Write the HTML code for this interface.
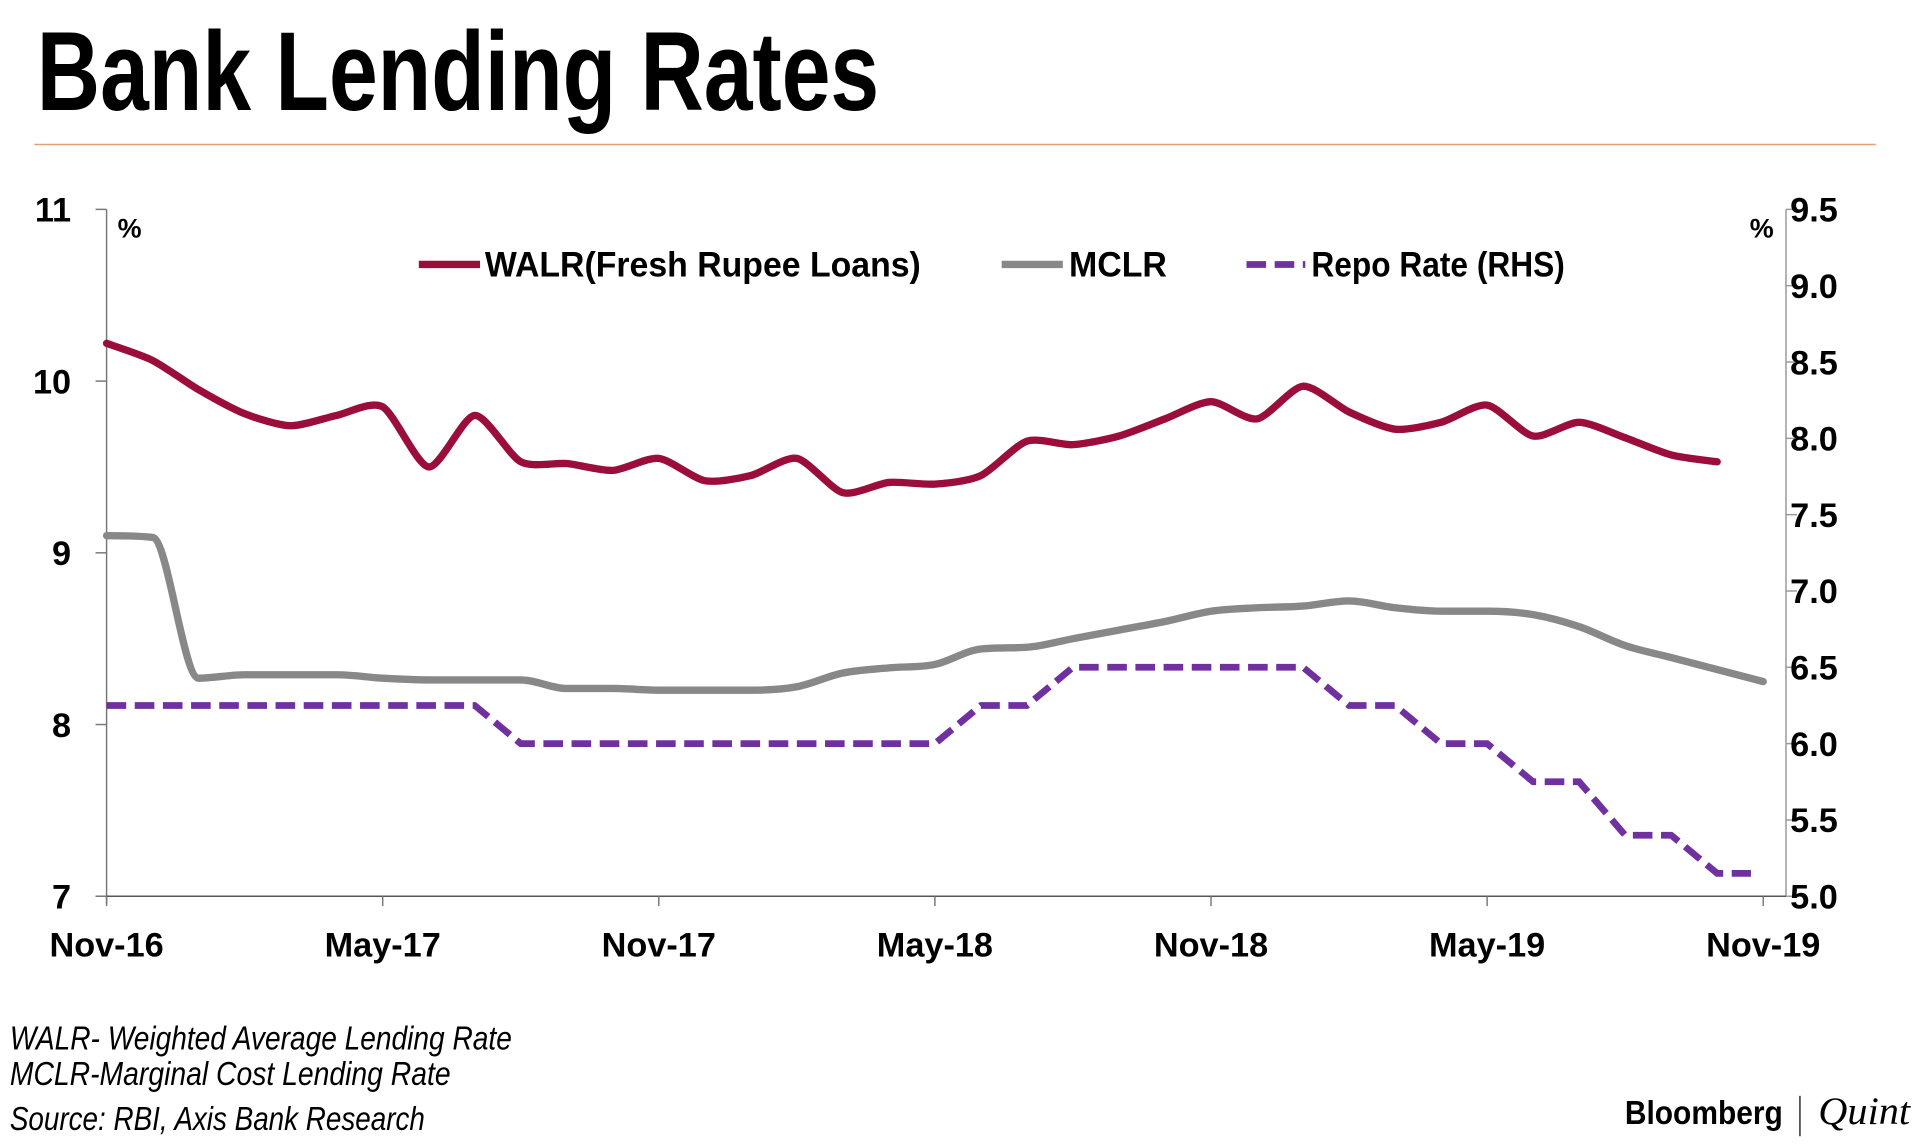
<!DOCTYPE html>
<html><head><meta charset="utf-8"><style>
html,body{margin:0;padding:0;background:#fff;width:1920px;height:1148px;overflow:hidden}
svg{display:block}
text{font-family:"Liberation Sans",sans-serif;font-weight:bold;fill:#000}
.n{font-family:"Liberation Sans Narrow","Liberation Sans",sans-serif}
.it{font-weight:normal;font-style:italic}
</style></head><body>
<svg id="chart" width="1920" height="1148" viewBox="0 0 1568 937.6" xmlns="http://www.w3.org/2000/svg">
<text class="n" x="30" y="90" font-size="92" textLength="688" lengthAdjust="spacingAndGlyphs">Bank Lending Rates</text>
<line x1="28" y1="118" x2="1532" y2="118" stroke="#e8a070" stroke-width="1.2"/>
<g id="axes"></g>
<g id="series"></g>
<g>
<line x1="342" y1="216" x2="392" y2="216" stroke="#9b0d3a" stroke-width="6"/>
<text class="n" x="396" y="226" font-size="29" textLength="356" lengthAdjust="spacingAndGlyphs">WALR(Fresh Rupee Loans)</text>
<line x1="818" y1="216" x2="868" y2="216" stroke="#888" stroke-width="6"/>
<text class="n" x="873" y="226" font-size="29" textLength="80" lengthAdjust="spacingAndGlyphs">MCLR</text>
<line x1="1018" y1="216" x2="1066" y2="216" stroke="#7030a0" stroke-width="5.5" stroke-dasharray="16,7"/>
<text class="n" x="1071" y="226" font-size="29" textLength="207" lengthAdjust="spacingAndGlyphs">Repo Rate (RHS)</text>
</g>
<text x="96" y="194" font-size="22">%</text>
<text x="1429" y="194" font-size="22">%</text>
<g>
<text class="n it" x="8" y="857" font-size="27" textLength="410" lengthAdjust="spacingAndGlyphs">WALR- Weighted Average Lending Rate</text>
<text class="n it" x="8" y="886" font-size="27" textLength="360" lengthAdjust="spacingAndGlyphs">MCLR-Marginal Cost Lending Rate</text>
<text class="n it" x="8" y="923" font-size="27" textLength="339" lengthAdjust="spacingAndGlyphs">Source: RBI, Axis Bank Research</text>
</g>
<g>
<text class="n" x="1327" y="918" font-size="27" textLength="129" lengthAdjust="spacingAndGlyphs">Bloomberg</text>
<line x1="1470" y1="895" x2="1470" y2="928" stroke="#000" stroke-width="1"/>
<text x="1485" y="918" font-size="32" style="font-family:'Liberation Serif',serif;font-style:italic;font-weight:normal" textLength="75" lengthAdjust="spacingAndGlyphs">Quint</text>
</g>
</svg>
<script>
const xLabels=["Nov-16","May-17","Nov-17","May-18","Nov-18","May-19","Nov-19"];
const leftTicks=[7,8,9,10,11];
const rightTicks=[5.0,5.5,6.0,6.5,7.0,7.5,8.0,8.5,9.0,9.5];
const walr=[10.22,10.12,9.95,9.81,9.74,9.8,9.85,9.5,9.8,9.53,9.52,9.48,9.55,9.42,9.45,9.55,9.35,9.41,9.4,9.45,9.65,9.63,9.68,9.78,9.88,9.78,9.97,9.82,9.72,9.76,9.86,9.68,9.76,9.67,9.57,9.53];
const mclr=[9.1,9.09,8.27,8.29,8.29,8.29,8.27,8.26,8.26,8.26,8.21,8.21,8.2,8.2,8.2,8.22,8.3,8.33,8.35,8.44,8.45,8.5,8.55,8.6,8.66,8.68,8.69,8.72,8.68,8.66,8.66,8.64,8.57,8.46,8.39,8.32,8.25];
const repo=[6.25,6.25,6.25,6.25,6.25,6.25,6.25,6.25,6.25,6.0,6.0,6.0,6.0,6.0,6.0,6.0,6.0,6.0,6.0,6.25,6.25,6.5,6.5,6.5,6.5,6.5,6.5,6.25,6.25,6.0,6.0,5.75,5.75,5.4,5.4,5.15,5.15];
const NS="http://www.w3.org/2000/svg";
const X0=87,X1=1440,YT=171,YB=732,AXR=1458.6;
const xs=i=>X0+(X1-X0)*i/36;
const yl=v=>YB-(v-7)/(11-7)*(YB-YT);
const yr=v=>YB-(v-5)/(9.5-5)*(YB-YT);
function mk(tag,attrs,parent){const e=document.createElementNS(NS,tag);for(const k in attrs)e.setAttribute(k,attrs[k]);parent.appendChild(e);return e;}
const axes=document.getElementById('axes'),ser=document.getElementById('series');
let a;
a=mk('line',{x1:X0,y1:YT,x2:X0,y2:YB+6,stroke:'#777','stroke-width':1.2},axes);

a=mk('line',{x1:AXR,y1:YT,x2:AXR,y2:YB,stroke:'#999','stroke-width':1.2},axes);

a=mk('line',{x1:X0-9,y1:YB,x2:AXR,y2:YB,stroke:'#555','stroke-width':1.2},axes);

leftTicks.forEach(v=>{
 mk('line',{x1:X0-9,y1:yl(v),x2:X0,y2:yl(v),stroke:'#777','stroke-width':1.2},axes);
 const t=mk('text',{x:58,y:yl(v)+10,'text-anchor':'end','font-size':28},axes);t.textContent=v;
 
});
rightTicks.forEach(v=>{
 mk('line',{x1:AXR,y1:yr(v),x2:AXR+9,y2:yr(v),stroke:'#999','stroke-width':1.2},axes);
 const t=mk('text',{x:1462,y:yr(v)+10,'font-size':28},axes);t.textContent=v.toFixed(1);
 
});
xLabels.forEach((l,i)=>{
 const x=xs(i*6);
 mk('line',{x1:x,y1:YB,x2:x,y2:YB+8,stroke:'#777','stroke-width':1.2},axes);
 const t=mk('text',{x:x,y:781,'text-anchor':'middle','font-size':28},axes);t.textContent=l;
 
});
function smooth(pts){let d=`M${pts[0][0]},${pts[0][1]}`;
 for(let i=0;i<pts.length-1;i++){const p0=pts[Math.max(0,i-1)],p1=pts[i],p2=pts[i+1],p3=pts[Math.min(pts.length-1,i+2)];
 const c1=[p1[0]+(p2[0]-p0[0])/8,p1[1]+(p2[1]-p0[1])/8],c2=[p2[0]-(p3[0]-p1[0])/8,p2[1]-(p3[1]-p1[1])/8];
 d+=` C${c1[0]},${c1[1]} ${c2[0]},${c2[1]} ${p2[0]},${p2[1]}`;}return d;}
function monotone(pts){const n=pts.length,dx=[],s=[],m=[];
 for(let i=0;i<n-1;i++){dx[i]=pts[i+1][0]-pts[i][0];s[i]=(pts[i+1][1]-pts[i][1])/dx[i];}
 m[0]=s[0];m[n-1]=s[n-2];
 for(let i=1;i<n-1;i++){m[i]=(s[i-1]*s[i]<=0)?0:(s[i-1]+s[i])/2;}
 for(let i=0;i<n-1;i++){if(s[i]===0){m[i]=0;m[i+1]=0;continue;}const al=m[i]/s[i],be=m[i+1]/s[i],h=al*al+be*be;if(h>9){const t=3/Math.sqrt(h);m[i]=t*al*s[i];m[i+1]=t*be*s[i];}}
 let d=`M${pts[0][0]},${pts[0][1]}`;
 for(let i=0;i<n-1;i++){const h=dx[i]/3;d+=` C${pts[i][0]+h},${pts[i][1]+m[i]*h} ${pts[i+1][0]-h},${pts[i+1][1]-m[i+1]*h} ${pts[i+1][0]},${pts[i+1][1]}`;}
 return d;}
let p;
p=mk('path',{d:monotone(mclr.map((v,i)=>[xs(i),yl(v)])),fill:'none',stroke:'#888','stroke-width':6,'stroke-linejoin':'round','stroke-linecap':'round'},ser);

p=mk('path',{d:smooth(walr.map((v,i)=>[xs(i),yl(v)])),fill:'none',stroke:'#9b0d3a','stroke-width':6,'stroke-linejoin':'round','stroke-linecap':'round'},ser);

p=mk('polyline',{points:repo.map((v,i)=>(i===36?xs(i)-10:xs(i))+','+yr(v)).join(' '),fill:'none',stroke:'#7030a0','stroke-width':5.5,'stroke-dasharray':'16,7'},ser);

</script>
</body></html>
